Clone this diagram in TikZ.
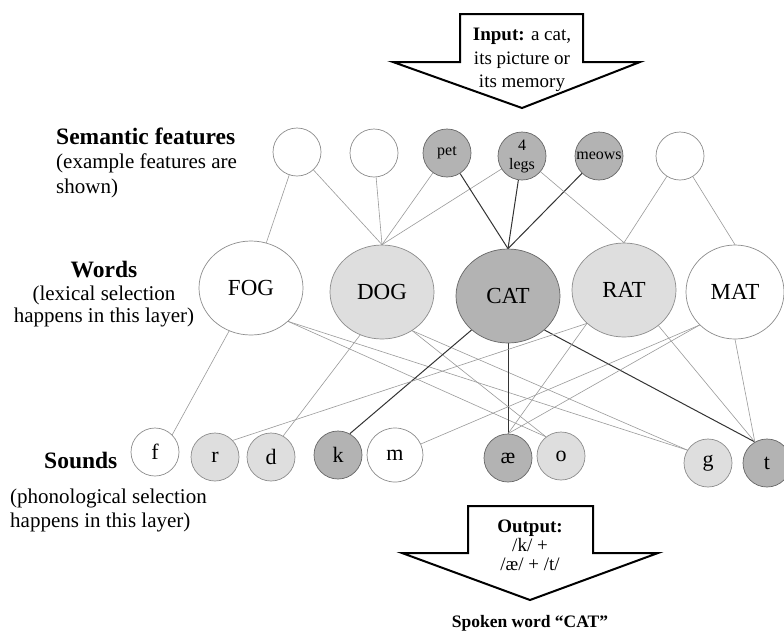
\documentclass[tikz,border=0pt]{standalone}
\usepackage{fontspec}
\setmainfont{Liberation Serif}
\usetikzlibrary{shapes.geometric,backgrounds}
\definecolor{lgfill}{HTML}{DEDEDE}
\definecolor{mgfill}{HTML}{B3B3B3}
\definecolor{lgline}{HTML}{9A9A9A}
\definecolor{dkline}{HTML}{333333}
\definecolor{bord}{HTML}{8C8C8C}
\definecolor{dbord}{HTML}{666666}
\begin{document}
\begin{tikzpicture}[x=1pt,y=-1pt,
  feat/.style={circle, draw=bord, line width=0.7pt, fill=white, minimum size=48pt, inner sep=0pt, font=\fontsize{16}{19}\selectfont, align=center},
  featg/.style={feat, fill=mgfill, draw=dbord},
  word/.style={ellipse, draw=bord, line width=0.7pt, fill=white, minimum width=104pt, minimum height=94pt, inner sep=0pt, font=\fontsize{23}{25}\selectfont},
  snd/.style={circle, draw=bord, line width=0.7pt, fill=white, minimum size=48pt, inner sep=0pt, font=\fontsize{22}{24}\selectfont},
  lite/.style={draw=lgline, line width=0.6pt},
  dark/.style={draw=dkline, line width=1pt},
  blk/.style={draw=black, line width=2pt, fill=white, line join=miter},
  lblb/.style={inner sep=0pt, font=\bfseries\fontsize{23.5}{26}\selectfont},
  lblr/.style={inner sep=0pt, font=\fontsize{21}{24}\selectfont},
  arrt/.style={inner sep=0pt, anchor=base, font=\fontsize{19}{21}\selectfont}
]
\useasboundingbox (0,0) rectangle (784,633);

% labels
\node[lblb, anchor=base west] (semT) at (56,144) {Semantic features};
\node[lblr, anchor=base west] (semA) at (56,168) {(example features are};
\node[lblr, anchor=base west] (semB) at (56,193) {shown)};
\node[lblb, anchor=base] (wrdT) at (104,277) {Words};
\node[lblr, anchor=base] (wrdA) at (104,300) {(lexical selection};
\node[lblr, anchor=base] (wrdB) at (104,322) {happens in this layer)};
\node[lblb, anchor=base west] (sndT) at (44,468) {Sounds};
\node[lblr, anchor=base west] (sndA) at (10,503) {(phonological selection};
\node[lblr, anchor=base west] (sndB) at (10,527) {happens in this layer)};

% semantic features
\node[feat] (S1) at (297,152) {};
\node[feat] (S2) at (374,153) {};
\node[featg] (pet) at (447,153) {pet};
\node[featg] (legs) at (522,156) {4\\legs};
\node[featg] (meows) at (599,156) {meows};
\node[feat] (S6) at (680,156) {};

% words
\node[word] (FOG) at (251,288) {FOG};
\node[word, fill=lgfill] (DOG) at (382,292) {DOG};
\node[word, fill=mgfill, draw=dbord] (CAT) at (508,296) {CAT};
\node[word, fill=lgfill] (RAT) at (624,290) {RAT};
\node[word, minimum width=98pt] (MAT) at (735,292) {MAT};

% sounds
\node[snd] (f) at (155,452) {f};
\node[snd, fill=lgfill] (r) at (215,457) {r};
\node[snd, fill=lgfill] (d) at (271,457) {d};
\node[snd, fill=mgfill, draw=dbord] (k) at (338,455) {k};
\node[snd, ellipse, minimum width=56pt, minimum height=54pt] (m) at (395,455) {m};
\node[snd, fill=mgfill, draw=dbord] (ae) at (508,458) {æ};
\node[snd, fill=lgfill] (o) at (561,456) {o};
\node[snd, fill=lgfill] (g) at (708,463) {g};
\node[snd, fill=mgfill, draw=dbord] (t) at (767,463) {t};

% connectors
\begin{scope}[on background layer]
\fill[white] (0,0) rectangle (784,633);
\draw[lite] (S1) -- (FOG);
\draw[lite] (S1) -- (DOG.north);
\draw[lite] (S2) -- (DOG.north);
\draw[lite] (pet) -- (DOG.north);
\draw[lite] (legs) -- (DOG.north);
\draw[dark] (pet) -- (CAT.north);
\draw[dark] (legs) -- (CAT.north);
\draw[dark] (meows) -- (CAT.north);
\draw[lite] (legs) -- (RAT.north);
\draw[lite] (S6) -- (RAT.north);
\draw[lite] (S6) -- (MAT.north);

\draw[lite] (FOG.-117) -- (f.45);
\draw[lite] (FOG.-42) -- (o.128);
\draw[lite] (FOG.-42) -- (g.148);
\draw[lite] (DOG.-117) -- (d.60);
\draw[lite] (DOG.-52) -- (o.128);
\draw[lite] (DOG.-52) -- (g.148);
\draw[dark] (CAT.-137) -- (k.61);
\draw[dark] (CAT.south) -- (ae.north);
\draw[dark] (CAT.-43) -- (t.120);
\draw[lite] (RAT.-138) -- (r.43);
\draw[lite] (RAT.-138) -- (ae.north);
\draw[lite] (RAT.-46) -- (t.120);
\draw[lite] (MAT.-137) -- (m);
\draw[lite] (MAT.-137) -- (ae.north);
\draw[lite] (MAT.south) -- (t.120);
\end{scope}

% input arrow
\draw[blk] (460,14) -- (583,14) -- (583,62) -- (640,62) -- (522,108) -- (393,62) -- (460,62) -- cycle;
\node[arrt] (inA) at (522,40) {\textbf{Input:} a cat,};
\node[arrt] (inB) at (522,64) {its picture or};
\node[arrt] (inC) at (522,87) {its memory};

% output arrow
\draw[blk] (468,506) -- (593,506) -- (593,553) -- (658,553) -- (530,600) -- (402,553) -- (468,553) -- cycle;
\node[arrt] (outA) at (530,532) {\textbf{Output:}};
\node[arrt] (outB) at (530,551) {/k/ +};
\node[arrt] (outC) at (530,570) {/æ/ + /t/};
\node[arrt, font=\bfseries\fontsize{17.5}{20}\selectfont] (spk) at (530,627) {Spoken word “CAT”};
\end{tikzpicture}
\end{document}
